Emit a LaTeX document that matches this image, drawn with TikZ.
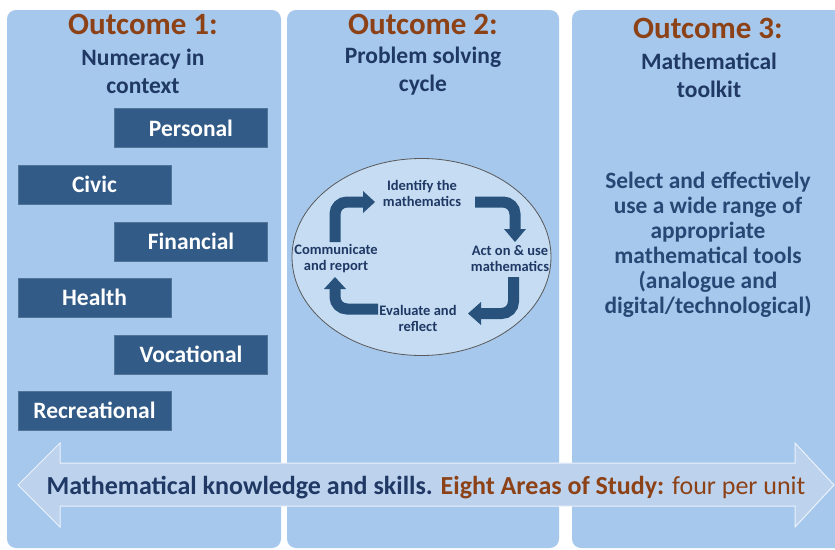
\documentclass[tikz,border=0pt]{standalone}
\usepackage{fontspec}
\setmainfont{Carlito}
\usetikzlibrary{shapes.geometric}
\definecolor{panel}{RGB}{166,200,236}
\definecolor{brownt}{RGB}{140,66,22}
\definecolor{navy}{RGB}{31,56,100}
\definecolor{bodyblue}{RGB}{38,72,116}
\definecolor{boxblue}{RGB}{50,91,135}
\definecolor{cyc}{RGB}{40,82,124}
\definecolor{ellfill}{RGB}{197,220,242}
\definecolor{arrowfill}{RGB}{189,210,237}
\tikzset{
  panelbox/.style={fill=panel, rounded corners=9pt},
  title/.style={font=\fontsize{31}{36}\selectfont\bfseries, text=brownt},
  sub/.style={font=\fontsize{23.5}{28}\selectfont\bfseries, text=navy, align=center},
  tag/.style={fill=boxblue, draw=boxblue!85!white, line width=0.6pt, text=white,
    font=\fontsize{23.5}{26}\selectfont\bfseries, minimum width=153pt, minimum height=39pt, inner sep=0pt},
  cyclabel/.style={font=\fontsize{14.5}{16}\selectfont\bfseries, text=navy, align=center},
  cycline/.style={draw=cyc, line width=11pt, rounded corners=12pt, line cap=butt},
  cychead/.style={fill=cyc},
  body/.style={font=\fontsize{23.4}{25}\selectfont\bfseries, text=bodyblue, align=center}
}
\begin{document}
\begin{tikzpicture}[x=1pt,y=-1pt]
\useasboundingbox (0,0) rectangle (835,549);
\clip (0,0) rectangle (835,549);
\fill[white] (0,0) rectangle (835,549);
% panels
\fill[panelbox] (7,10) rectangle (281,548);
\fill[panelbox] (287,10) rectangle (559,548);
\fill[panelbox] (572,10) rectangle (850,548);
% titles
\node[title] (o1) at (143,24) {Outcome 1:};
\node[title] (o2) at (423,24) {Outcome 2:};
\node[title] (o3) at (708,28) {Outcome 3:};
\node[sub] (s1) at (143,71) {Numeracy in\\context};
\node[sub] (s2) at (423,71) {Problem solving\\cycle};
\node[sub] (s3) at (709,75) {Mathematical\\toolkit};
% context boxes
\node[tag] (personal) at (191,128) {Personal};
\node[tag] (civic) at (94.5,184.5) {Civic};
\node[tag] (financial) at (191,241.5) {Financial};
\node[tag] (health) at (94.5,297.5) {Health};
\node[tag] (vocational) at (191,354.5) {Vocational};
\node[tag] (recreational) at (94.5,410.5) {Recreational};
% problem solving cycle
\node[ellipse, draw=black!65, line width=0.8pt, fill=ellfill, minimum width=259pt, minimum height=197pt, inner sep=0pt] (ell) at (421.5,257) {};
\node[cyclabel] (identify) at (422,193) {Identify the\\mathematics};
\node[cyclabel] (act) at (510,259) {Act on \& use\\mathematics};
\node[cyclabel] (evaluate) at (418,318) {Evaluate and\\reflect};
\node[cyclabel] (communicate) at (336,259) {Communicate\\and report};
% arrow 1: communicate -> identify
\draw[cycline] (335,242) -- (335,202) -- (363.5,202);
\fill[cychead] (363,191) -- (375,202) -- (363,213) -- cycle;
% arrow 2: identify -> act
\draw[cycline] (475,202) -- (515,202) -- (515,229.5);
\fill[cychead] (504,229) -- (515,242) -- (526,229) -- cycle;
% arrow 3: act -> evaluate
\draw[cycline] (513.5,277) -- (513.5,313.5) -- (480.5,313.5);
\fill[cychead] (481,302) -- (468,313.5) -- (481,325) -- cycle;
% arrow 4: evaluate -> communicate
\draw[cycline] (378,309) -- (335,309) -- (335,288.5);
\fill[cychead] (324,289) -- (335,277) -- (346,289) -- cycle;
% toolkit text
\node[body] (tk) at (708,244.5) {Select and effectively\\use a wide range of\\appropriate\\mathematical tools\\(analogue and\\digital/technological)};
% bottom double arrow
\fill[arrowfill, draw=white!70!arrowfill, line width=1pt]
  (18,485) -- (60,443) -- (60,463) -- (795,463) -- (795,443) -- (834,485)
  -- (795,527) -- (795,506) -- (60,506) -- (60,527) -- cycle;
\node[anchor=base, font=\fontsize{26}{30}\selectfont, inner sep=0pt] (skills) at (426,494)
  {\textbf{\color{navy}Mathematical knowledge and skills.} \textbf{\color{brownt}Eight Areas of Study:} {\color{brownt}four per unit}};
\end{tikzpicture}
\end{document}
